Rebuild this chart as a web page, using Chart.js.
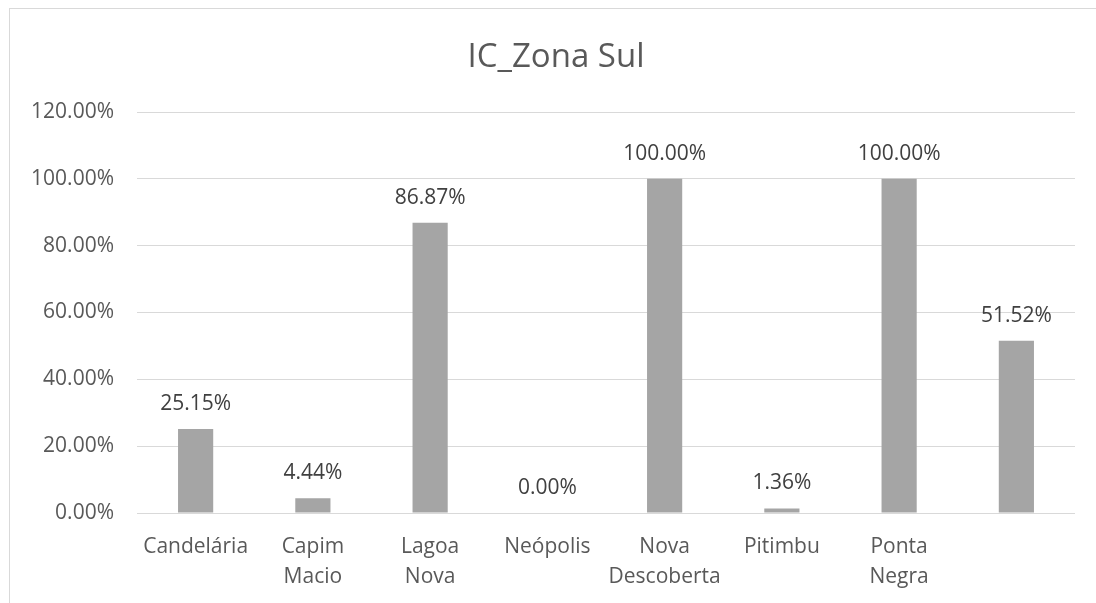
<!DOCTYPE html>
<html>
<head>
<meta charset="utf-8">
<script src="https://cdn.jsdelivr.net/npm/chart.js@4.4.0/dist/chart.umd.min.js"></script>
<style>
  html,body{margin:0;padding:0;background:#fff;overflow:hidden;}
  #wrap{position:absolute;left:0;top:0;width:1096px;height:603px;overflow:hidden;}
  #c{position:absolute;left:0;top:0;}
  #frame{position:absolute;left:9px;top:8px;width:1200px;height:700px;border:1px solid #d9d9d9;box-sizing:border-box;pointer-events:none;}
</style>
</head>
<body>
<div id="wrap">
  <canvas id="c" width="1096" height="603"></canvas>
  <div id="frame"></div>
</div>
<script>
// dados do gráfico
const titulo='IC_Zona Sul';
const bairros=['Candelária',['Capim','Macio'],['Lagoa','Nova'],'Neópolis',['Nova','Descoberta'],'Pitimbu',['Ponta','Negra'],''];
const valores=[25.15,4.44,86.87,0.00,100.00,1.36,100.00,51.52];
const ticksY=[0,20,40,60,80,100,120];

const FONT='"Open Sans", "Noto Sans", sans-serif';

// título centrado na moldura do gráfico (não só na área útil)
const tituloPlugin={
  id:'tituloPlugin',
  afterDraw(chart){
    const ctx=chart.ctx;
    ctx.save();
    ctx.font='33px '+FONT;
    ctx.fillStyle='#595959';
    ctx.textAlign='center';
    ctx.textBaseline='alphabetic';
    ctx.fillText(titulo,556,67);
    ctx.restore();
  }
};

// rótulos de dados acima das barras
const rotulos={
  id:'rotulos',
  afterDatasetsDraw(chart){
    const ctx=chart.ctx;
    const meta=chart.getDatasetMeta(0);
    ctx.save();
    ctx.font='21px '+FONT;
    ctx.fillStyle='#404040';
    ctx.textAlign='center';
    ctx.textBaseline='middle';
    meta.data.forEach((bar,i)=>{
      ctx.fillText(valores[i].toFixed(2)+'%',bar.x,bar.y-25);
    });
    ctx.restore();
  }
};

new Chart(document.getElementById('c'),{
  type:'bar',
  data:{labels:bairros,datasets:[{
    label:titulo,data:valores,backgroundColor:'#a5a5a5',
    barPercentage:0.6,categoryPercentage:0.5
  }]},
  options:{
    responsive:false,animation:false,
    layout:{padding:{left:0,right:21,top:112,bottom:0}},
    plugins:{legend:{display:false},tooltip:{enabled:false},title:{display:false}},
    scales:{
      x:{
        grid:{display:false},border:{display:false},
        ticks:{color:'#595959',font:{family:FONT,size:21,lineHeight:1.43},padding:11,maxRotation:0,autoSkip:false},
        afterFit(s){s.height=90;}
      },
      y:{
        min:0,max:120,
        afterBuildTicks(s){s.ticks=ticksY.map(v=>({value:v}));},
        grid:{color:'#d9d9d9',drawTicks:false},border:{display:false},
        ticks:{color:'#595959',font:{family:FONT,size:21},padding:23,callback:v=>v.toFixed(2)+'%'},
        afterFit(s){s.width=137;}
      }
    }
  },
  plugins:[rotulos,tituloPlugin]
});
</script>
</body>
</html>
